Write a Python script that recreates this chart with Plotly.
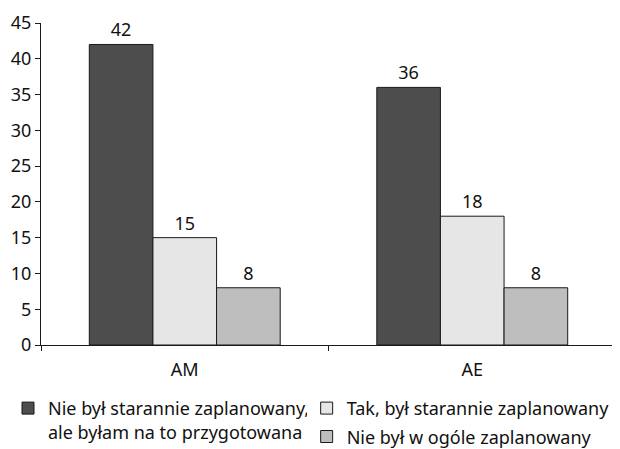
import plotly.graph_objects as go

categories = ["AM", "AE"]
series_names = [
    "Nie był starannie zaplanowany,<br>ale byłam na to przygotowana",
    "Tak, był starannie zaplanowany",
    "Nie był w ogóle zaplanowany",
]
series_values = [
    [42, 36],
    [15, 18],
    [8, 8],
]
colors = ["#4d4d4d", "#e6e6e6", "#bebebe"]
legend_ids = ["legend", "legend2", "legend2"]

FONT = dict(family="Noto Sans", size=18, color="#111111")

fig = go.Figure()
for i, (name, vals, col, lg) in enumerate(zip(series_names, series_values, colors, legend_ids)):
    fig.add_trace(go.Bar(
        x=categories,
        y=vals,
        name=name,
        marker=dict(color=col, line=dict(color="#1a1a1a", width=1)),
        text=vals,
        textposition="outside",
        textfont=FONT,
        cliponaxis=False,
        legend=lg,
        legendgroup=f"g{i}",
        showlegend=True,
    ))

# page body has an 8px margin, so the figure is drawn 8px smaller
fig.update_layout(
    width=612,
    height=441,
    barmode="group",
    bargap=0.336,
    bargroupgap=0,
    plot_bgcolor="white",
    paper_bgcolor="white",
    font=FONT,
    showlegend=True,
    margin=dict(l=33, r=4, t=15, b=104, autoexpand=False),
    xaxis=dict(
        showline=True, linecolor="#1a1a1a", linewidth=1,
        ticks="outside", tickson="boundaries", ticklen=5, tickcolor="#1a1a1a",
        showgrid=False, automargin=False, ticklabelstandoff=8,
    ),
    yaxis=dict(
        range=[0, 45], dtick=5,
        showline=True, linecolor="#1a1a1a", linewidth=1,
        ticks="outside", ticklen=5, tickcolor="#1a1a1a",
        showgrid=False, zeroline=False, automargin=False,
    ),
    legend=dict(
        xref="container", yref="container",
        x=0.0, y=0.134, xanchor="left", yanchor="top",
        font=FONT, valign="top", tracegroupgap=0,
    ),
    legend2=dict(
        xref="container", yref="container",
        x=0.488, y=0.134, xanchor="left", yanchor="top",
        font=FONT, tracegroupgap=2,
    ),
)

fig.write_html("out.html")
